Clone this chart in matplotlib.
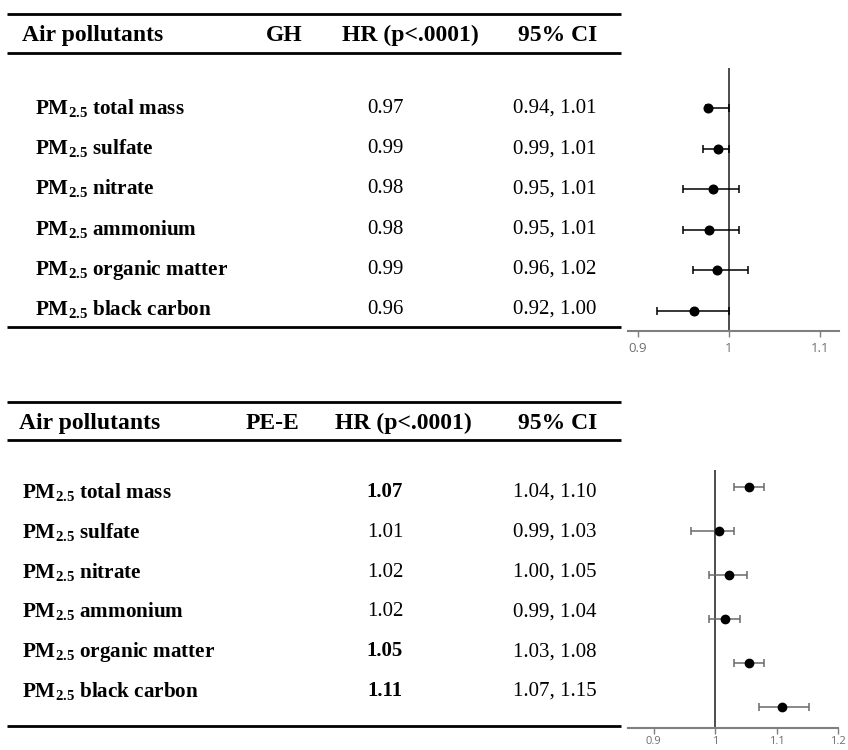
import matplotlib
matplotlib.use("Agg")
import matplotlib.pyplot as plt
import numpy as np

plt.rcParams['mathtext.fontset'] = 'custom'
plt.rcParams['mathtext.rm'] = 'Liberation Serif'
plt.rcParams['mathtext.bf'] = 'Liberation Serif:bold'
plt.rcParams['mathtext.it'] = 'Liberation Serif:italic'

# ---------------- data ----------------
pollutants = ["total mass", "sulfate", "nitrate", "ammonium", "organic matter", "black carbon"]

gh_hr_text = ["0.97", "0.99", "0.98", "0.98", "0.99", "0.96"]
gh_ci_text = ["0.94, 1.01", "0.99, 1.01", "0.95, 1.01", "0.95, 1.01", "0.96, 1.02", "0.92, 1.00"]
gh_point = [0.977, 0.988, 0.983, 0.978, 0.987, 0.962]
gh_lo = [0.975, 0.971, 0.950, 0.950, 0.960, 0.921]
gh_hi = [1.000, 1.000, 1.011, 1.011, 1.021, 1.000]

pe_hr_text = ["1.07", "1.01", "1.02", "1.02", "1.05", "1.11"]
pe_hr_bold = [True, False, False, False, True, True]
pe_ci_text = ["1.04, 1.10", "0.99, 1.03", "1.00, 1.05", "0.99, 1.04", "1.03, 1.08", "1.07, 1.15"]
pe_point = [1.055, 1.006, 1.022, 1.016, 1.055, 1.108]
pe_lo = [1.031, 0.960, 0.990, 0.990, 1.031, 1.072]
pe_hi = [1.080, 1.031, 1.051, 1.040, 1.080, 1.152]

gh_ticks = [0.9, 1.0, 1.1]
gh_ticklabels = ["0.9", "1", "1.1"]
pe_ticks = [0.9, 1.0, 1.1, 1.2]
pe_ticklabels = ["0.9", "1", "1.1", "1.2"]

# ---------------- figure ----------------
W, H = 848, 750
fig = plt.figure(figsize=(W / 100, H / 100), dpi=100)
tab = fig.add_axes([0, 0, 1, 1])
tab.set_xlim(0, W)
tab.set_ylim(H, 0)
tab.axis("off")

SERIF = "Liberation Serif"
HFS = 17     # header size
LFS = 15.2   # row label size
VFS = 15     # values size


def label_text(name):
    return r"PM$_{\mathbf{2.5}}$ " + name


def draw_table(top_rule, mid_rule, bot_rule, head_y, col_name, col_x, row_y0, row_dy,
               label_x, head_x0, hr_text, ci_text, hr_bold=None):
    for yr in (top_rule, mid_rule, bot_rule):
        tab.plot([7, 621], [yr, yr], color="black", lw=2.0, solid_capstyle="butt")
    tab.text(head_x0, head_y, "Air pollutants", fontfamily=SERIF, fontweight="bold",
             fontsize=HFS, va="center_baseline", ha="left")
    tab.text(col_x[0], head_y, col_name, fontfamily=SERIF, fontweight="bold",
             fontsize=HFS, va="center_baseline", ha="center")
    tab.text(col_x[1], head_y, "HR (p<.0001)", fontfamily=SERIF, fontweight="bold",
             fontsize=HFS, va="center_baseline", ha="center")
    tab.text(col_x[2], head_y, "95% CI", fontfamily=SERIF, fontweight="bold",
             fontsize=HFS, va="center_baseline", ha="center")
    for i, name in enumerate(pollutants):
        y = row_y0 + row_dy * i
        tab.text(label_x, y + 7, label_text(name), fontfamily=SERIF, fontweight="bold",
                 fontsize=LFS, va="baseline", ha="left")
        bold = hr_bold[i] if hr_bold is not None else False
        tab.text(385, y + 6, hr_text[i], fontfamily=SERIF,
                 fontweight="bold" if bold else "normal",
                 fontsize=VFS, va="baseline", ha="center")
        tab.text(555, y + 6, ci_text[i], fontfamily=SERIF, fontsize=VFS,
                 va="baseline", ha="center")


draw_table(14, 53, 327, 33, "GH", [284, 410, 558], 107, 40.2, 35, 22, gh_hr_text, gh_ci_text)
draw_table(402, 440, 726, 421, "PE-E", [272, 403, 558], 491, 39.8, 22, 19,
           pe_hr_text, pe_ci_text, pe_hr_bold)


def forest(left, right, top, bottom, xlim, row_y0, row_dy, point, lo, hi, ticks, ticklabels,
           ecolor, msize, tfs, pad):
    ax = fig.add_axes([left / W, 1 - bottom / H, (right - left) / W, (bottom - top) / H])
    ax.patch.set_alpha(0)
    n = len(point)
    y = np.arange(n)
    ylo = (bottom - row_y0) / row_dy
    yhi = (top - row_y0) / row_dy
    ax.set_ylim(ylo, yhi)
    ax.set_xlim(*xlim)
    p = np.array(point)
    ax.axvline(1.0, color="#3f3f3f", lw=1.3, zorder=1)
    ax.errorbar(p, y, xerr=[p - np.array(lo), np.array(hi) - p], fmt="o",
                color="black", ecolor=ecolor, elinewidth=1.1, capsize=3.2,
                capthick=1.1, markersize=msize, zorder=3)
    for s in ("top", "right", "left"):
        ax.spines[s].set_visible(False)
    ax.spines["bottom"].set_color("#7f7f7f")
    ax.spines["bottom"].set_linewidth(1.5)
    ax.set_yticks([])
    ax.set_xticks(ticks)
    ax.set_xticklabels(ticklabels, fontfamily="Open Sans", fontsize=tfs, color="#6f6f6f")
    ax.tick_params(axis="x", direction="out", length=4, width=1.0, color="#7f7f7f", pad=pad)
    return ax


forest(628, 839, 68, 331, (0.889, 1.121), 108, 40.6, gh_point, gh_lo, gh_hi,
       gh_ticks, gh_ticklabels, "black", 6.2, 9.5, 4)
forest(628, 838, 470, 728, (0.858, 1.2), 487, 44.0, pe_point, pe_lo, pe_hi,
       pe_ticks, pe_ticklabels, "#6a6a6a", 6.0, 8.0, 1.5)

fig.savefig("out.png", dpi=100)
